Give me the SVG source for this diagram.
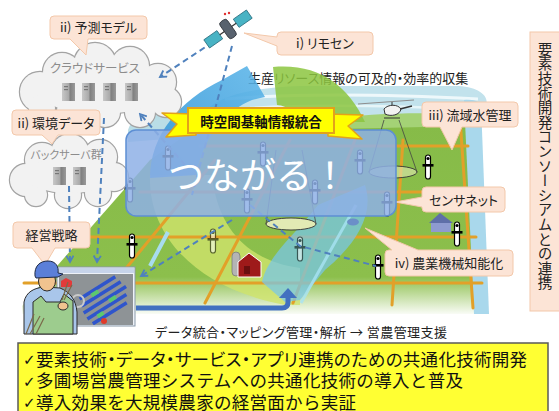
<svg xmlns="http://www.w3.org/2000/svg" width="559" height="411" viewBox="0 0 559 411">
<defs>
<style>
text{font-family:"Noto Sans CJK JP","Noto Sans",sans-serif;font-feature-settings:"palt";}
.call{fill:#fce4d6;stroke:#f3c8aa;stroke-width:1;}
.ct{font-size:13px;fill:#222;}
.dash{fill:none;stroke:#4f81bd;stroke-width:2;stroke-dasharray:6 4;}
.road{fill:none;stroke:#e2a029;stroke-width:3;stroke-linecap:round;}
.ctxt{fill:#8c8c8c;}
.chk{font-family:"DejaVu Sans",sans-serif;font-size:15px;fill:#111;}
.bl{font-size:17.5px;fill:#111;}
.full{font-feature-settings:normal;}
</style>
<marker id="chev" viewBox="0 0 10 10" refX="8" refY="5" markerWidth="4.5" markerHeight="4.5" orient="auto">
<path d="M1,1 L8,5 L1,9" fill="none" stroke="#4f81bd" stroke-width="2"/>
</marker>
<linearGradient id="fieldG" x1="0" y1="120" x2="0" y2="316" gradientUnits="userSpaceOnUse">
<stop offset="0" stop-color="#86bb48"/>
<stop offset="0.8" stop-color="#8cbf4c"/>
<stop offset="1" stop-color="#ffffff"/>
</linearGradient>
<linearGradient id="blueG" x1="150" y1="170" x2="260" y2="70" gradientUnits="userSpaceOnUse">
<stop offset="0" stop-color="#2f93d6"/>
<stop offset="1" stop-color="#5ab4e8"/>
</linearGradient>
<linearGradient id="srvG" x1="0" y1="0" x2="1" y2="0">
<stop offset="0" stop-color="#c8c8c8"/>
<stop offset="0.55" stop-color="#a8a8a8"/>
<stop offset="0.6" stop-color="#7e7e7e"/>
<stop offset="1" stop-color="#9a9a9a"/>
</linearGradient>
<g id="srv">
<rect x="0" y="0" width="13" height="18" fill="url(#srvG)"/>
<rect x="2" y="3" width="4" height="1.2" fill="#777"/>
<rect x="2" y="6" width="4" height="1.2" fill="#777"/>
</g>
<g id="pole">
<rect x="-2.5" y="0" width="5" height="24" rx="2.5" fill="#fff" stroke="#000" stroke-width="1.2"/>
<rect x="-5.5" y="9" width="11" height="2.6" fill="#000"/>
<circle cx="0" cy="3.5" r="1.6" fill="#000"/>
</g>
<g id="cloud1">
<circle cx="40" cy="92" r="20"/>
<circle cx="62" cy="72" r="19"/>
<circle cx="95" cy="64" r="21"/>
<circle cx="130" cy="66" r="19"/>
<circle cx="158" cy="82" r="18"/>
<circle cx="166" cy="102" r="15"/>
<circle cx="140" cy="112" r="15"/>
<circle cx="105" cy="112" r="15"/>
<circle cx="72" cy="111" r="15"/>
<circle cx="42" cy="108" r="13"/>
<ellipse cx="100" cy="90" rx="62" ry="24"/>
</g>
<g id="cloud2">
<circle cx="26" cy="180" r="16"/>
<circle cx="42" cy="160" r="17"/>
<circle cx="70" cy="153" r="19"/>
<circle cx="100" cy="157" r="17"/>
<circle cx="114" cy="177" r="14"/>
<circle cx="98" cy="193" r="13"/>
<circle cx="68" cy="195" r="13"/>
<circle cx="36" cy="195" r="11"/>
<ellipse cx="70" cy="175" rx="45" ry="18"/>
</g>
<clipPath id="scrClip"><rect x="59" y="274" width="74" height="51"/></clipPath>
</defs>

<rect width="559" height="411" fill="#ffffff"/>

<!-- distant landscape behind the field -->
<g id="landscape">
<path d="M128,130 C134,112 150,103 170,100 L180,138 L128,142 Z" fill="#b9dde6"/>
<path d="M196,132 C198,100 240,88 300,86 L455,86 C482,86 494,100 482,110 C472,116 470,122 470,135 Z" fill="#c2e2ec"/>
<path d="M225,99 C300,93 400,95 478,99" fill="none" stroke="#eef8fb" stroke-width="3"/>
<path d="M250,108 C320,104 420,106 472,110" fill="none" stroke="#e6f5f8" stroke-width="2.5"/>
<path d="M320,120 C380,112 440,112 472,116 L472,136 L320,136 Z" fill="#9fcf62" opacity="0.85"/>
</g>

<!-- farm field with roads and river -->
<g id="field">
<path d="M22,306 L150,160 L190,132 L470,126 L478,314 L22,314 Z" fill="url(#fieldG)"/>
<path d="M150,175 C148,235 195,288 285,305 L300,305 L300,268 C255,262 218,235 212,175 Z" fill="#cfe46c" opacity="0.8"/>
<path d="M464,100 C470,99 477,100 481,104 L489,314 L474,314 Z" fill="#a9d8ec"/>
<path class="road" d="M200,146 L468,146 M140,192 L470,192 M85,237 L476,237 M24,283 L482,283"/>
<path class="road" d="M100,300 L215,160 M205,303 L290,140 M293,303 L355,140 M392,305 L403,140 M473,308 L460,118"/>
<path d="M365,185 C375,215 355,245 325,270 L300,300 L285,302 L262,282 C268,255 295,235 318,205 Z" fill="#77c6ec" opacity="0.72"/>
<path d="M356,205 L301,303" fill="none" stroke="#a8e4f4" stroke-width="3" opacity="0.8"/>
<path d="M168,232 L150,266" fill="none" stroke="#a8dcef" stroke-width="4"/>
</g>

<text x="248" y="83" font-size="13" fill="#222">生産リソース情報の可及的・効率的収集</text>

<!-- circulating arrows -->
<g id="cycle">
<path d="M150,178 C150,135 180,100 222,80 L247,66 L265,97 L252,100 C228,110 205,132 196,175 Z" fill="url(#blueG)" opacity="0.88"/>
<path d="M273,67 C318,63 348,85 365,122 L300,122 C295,112 288,106 277,105 Z" fill="#8cc63f" opacity="0.85"/>
</g>

<!-- sensing cones, buildings and field sensors -->
<g id="ground">
<path d="M276,150 L266,224 M302,150 L316,224" stroke="#444" stroke-width="0.8" fill="none"/>
<ellipse cx="291" cy="224" rx="25" ry="6" fill="#e2eab4" stroke="#333" stroke-width="0.9"/>
<path d="M384,120 L369,172 M399,120 L417,172" stroke="#444" stroke-width="0.8" fill="none"/>
<ellipse cx="393" cy="172" rx="24" ry="6" fill="#e2eab4" fill-opacity="0.6" stroke="#333" stroke-width="0.9"/>
<rect x="232" y="252" width="8" height="24" rx="4" fill="#b4b4b4" stroke="#666" stroke-width="0.6"/>
<path d="M238,262 L249,253 L261,262 L261,277 L238,277 Z" fill="#9e1a1a" stroke="#fff" stroke-width="1"/>
<rect x="244" y="266" width="6" height="8" fill="#6a0f0f"/>
<path d="M429,223 L440,213 L453,223 Z" fill="#5e6fa8"/>
<rect x="431" y="223" width="20" height="9" fill="#8e9bd0"/>
<ellipse cx="353" cy="222" rx="6" ry="3.5" fill="#6b8fc8"/>
<use href="#pole" x="132" y="234"/>
<use href="#pole" x="213" y="229" opacity="0.55"/>
<use href="#pole" x="300" y="237" opacity="0.55"/>
<use href="#pole" x="378" y="255"/>
<use href="#pole" x="428" y="155"/>
<use href="#pole" x="457" y="222"/>
<use href="#pole" x="387" y="192"/>
<use href="#pole" x="168" y="146"/>
<use href="#pole" x="130" y="178"/>
<use href="#pole" x="247" y="189"/>
<use href="#pole" x="263" y="142"/>
<use href="#pole" x="315" y="180"/>
<use href="#pole" x="360" y="150"/>
</g>

<!-- server clouds -->
<g id="cloud-service">
<use href="#cloud1" fill="#f2f2f2" stroke="#a3a3a3" stroke-width="2.4"/>
<use href="#cloud1" fill="#f2f2f2"/>
<text x="95" y="73" font-size="12.5" class="ctxt" text-anchor="middle">クラウドサービス</text>
<use href="#srv" x="62" y="83"/>
<use href="#srv" x="82" y="83"/>
<use href="#srv" x="103" y="83"/>
<use href="#srv" x="125" y="83"/>
</g>
<g id="cloud-backend">
<use href="#cloud2" fill="#f2f2f2" stroke="#a3a3a3" stroke-width="2.4"/>
<use href="#cloud2" fill="#f2f2f2"/>
<text x="66" y="159" font-size="11" class="ctxt" text-anchor="middle">バックサーバ群</text>
<use href="#srv" x="53" y="167"/>
<use href="#srv" x="73" y="167"/>
</g>

<!-- data flows -->
<g id="connectors">
<path class="dash" d="M213,42 L160,77" marker-end="url(#chev)"/>
<path class="dash" d="M232,46 L192,195"/>
<path class="dash" d="M185,165 L140,114" marker-end="url(#chev)"/>
<path class="dash" d="M104,118 L97,262" marker-end="url(#chev)"/>
<path class="dash" d="M69,186 L70,262" marker-end="url(#chev)"/>
<path class="dash" d="M232,220 L141,276" marker-end="url(#chev)"/>
<path class="dash" d="M250,205 L300,246 L376,266"/>
</g>

<!-- satellite -->
<g id="satellite">
<g transform="translate(228,29) rotate(-35)">
<rect x="-26" y="-5" width="16" height="10" fill="#48b3c4" stroke="#2a6f80" stroke-width="0.8"/>
<rect x="10" y="-5" width="16" height="10" fill="#48b3c4" stroke="#2a6f80" stroke-width="0.8"/>
<line x1="-10" y1="0" x2="10" y2="0" stroke="#333" stroke-width="1.2"/>
<rect x="-4.5" y="-10" width="9" height="20" rx="3" fill="#58626e" stroke="#2b3036" stroke-width="0.8"/>
</g>
<circle cx="225" cy="14" r="1.2" fill="#e03030"/>
<circle cx="229" cy="13" r="1.2" fill="#e03030"/>
</g>

<!-- helicopter -->
<g id="helicopter">
<line x1="358" y1="104" x2="414" y2="100" stroke="#8e8e8e" stroke-width="1"/>
<line x1="392" y1="102" x2="392" y2="106" stroke="#333" stroke-width="1"/>
<path d="M384,109 C388,104 398,104 401,109 C400,115 391,117 385,114 Z" fill="#f2f2f2" stroke="#333" stroke-width="1"/>
<line x1="400" y1="109" x2="412" y2="106" stroke="#333" stroke-width="1.5"/>
<line x1="384" y1="118" x2="400" y2="118" stroke="#333" stroke-width="1"/>
</g>

<!-- callouts -->
<g id="c-yosoku">
<path class="call" d="M54,16 H143 Q147,16 147,20 V35 Q147,39 143,39 H88 L86,55 L70,39 H54 Q50,39 50,35 V20 Q50,16 54,16 Z"/>
<text x="98.5" y="32" class="ct" text-anchor="middle">ii) 予測モデル</text>
</g>
<g id="c-rimosen">
<path class="call" d="M281,32 H369 Q373,32 373,36 V51 Q373,55 369,55 H281 Q277,55 277,51 V46 L244,33 L277,37 V36 Q277,32 281,32 Z"/>
<text x="325" y="48" class="ct" text-anchor="middle">i) リモセン</text>
</g>
<g id="c-ryuiki">
<path class="call" d="M426,102 H514 Q518,102 518,106 V123 Q518,127 514,127 H462 L452,150 L440,127 H426 Q422,127 422,123 V106 Q422,102 426,102 Z"/>
<text x="470" y="119.5" class="ct" text-anchor="middle">iii) 流域水管理</text>
</g>
<g id="c-kankyo">
<path class="call" d="M16,110 H96 Q100,110 100,114 V131 Q100,135 96,135 H58 L52,144 L42,135 H16 Q12,135 12,131 V114 Q12,110 16,110 Z"/>
<text x="56" y="127.5" class="ct" text-anchor="middle">ii) 環境データ</text>
</g>
<g id="c-keiei">
<path class="call" d="M17,222 H86 Q90,222 90,226 V244 Q90,248 86,248 H55 L45,265 L32,248 H17 Q13,248 13,244 V226 Q13,222 17,222 Z"/>
<text x="51.5" y="240" class="ct" text-anchor="middle">経営戦略</text>
</g>
<g id="c-sensor">
<path class="call" d="M426,187 H501 Q505,187 505,191 V208 Q505,212 501,212 H426 Q422,212 422,208 V207 L395,202 L422,197 V191 Q422,187 426,187 Z"/>
<text x="463.5" y="204.5" class="ct" text-anchor="middle">センサネット</text>
</g>
<g id="c-kikai">
<path class="call" d="M389,250 H392 L365,228 L418,250 H509 Q513,250 513,254 V272 Q513,276 509,276 H389 Q385,276 385,272 V254 Q385,250 389,250 Z"/>
<text x="449" y="268" class="ct" text-anchor="middle">iv) 農業機械知能化</text>
</g>

<!-- integration panel -->
<g id="panel">
<rect x="126" y="130" width="270" height="86" rx="10" fill="#8eb0e6" fill-opacity="0.85" stroke="#5d8fd4" stroke-width="1.5"/>
<text x="168" y="189" font-size="36" fill="#ffffff" class="full">つながる！</text>
</g>

<g id="banner">
<path d="M194,114 L162,113 L177,124 L166,137 L196,135 Z" fill="#ffff00" stroke="#e3a21a" stroke-width="1.5" stroke-linejoin="round"/>
<path d="M328,114 L363,115 L348,126 L362,139 L328,136 Z" fill="#ffff00" stroke="#e3a21a" stroke-width="1.5" stroke-linejoin="round"/>
<rect x="188" y="108" width="146" height="25" fill="#ffff00" stroke="#e3a21a" stroke-width="2"/>
<text x="261" y="126.5" font-size="13.5" font-weight="bold" fill="#111" text-anchor="middle">時空間基軸情報統合</text>
</g>

<!-- management screen and farmer -->
<g id="screen">
<rect x="57" y="267" width="78" height="59" fill="#eef2f8" stroke="#8a9aaa" stroke-width="1"/>
<rect x="58" y="268" width="76" height="5" fill="#c7d4ea"/>
<rect x="59" y="274" width="74" height="51" fill="#8e9396"/>
<g clip-path="url(#scrClip)">
<g transform="rotate(-32 105 300)">
<rect x="84" y="284" width="42" height="3.5" fill="#2f55cc"/>
<rect x="82" y="291" width="46" height="3.5" fill="#2f55cc"/>
<rect x="80" y="298" width="50" height="3.5" fill="#2f55cc"/>
<rect x="80" y="305" width="46" height="3.5" fill="#2f55cc"/>
<rect x="82" y="312" width="40" height="3.5" fill="#2f55cc"/>
<rect x="96" y="287" width="8" height="4" fill="#5cc86e"/>
<rect x="108" y="301" width="8" height="4" fill="#5cc86e"/>
<rect x="90" y="308" width="7" height="4" fill="#5cc86e"/>
</g>
<path d="M61,287 L61,281 L66,278 L72,281 L72,287 Z" fill="#e23a3a"/>
<circle cx="78" cy="301" r="6" fill="none" stroke="#c9c9c9" stroke-width="2"/>
<circle cx="104" cy="321" r="3" fill="#e03b2a"/>
</g>
</g>
<g id="farmer">
<path d="M24,334 L24,302 C26,292 34,288 44,287 L60,288 C70,292 76,300 77,312 L77,334 Z" fill="#a9c6ea" stroke="#2a2a2a" stroke-width="1"/>
<path d="M33,334 L33,302 L41,296 L46,302 L60,302 L64,294 L73,301 L73,334 Z" fill="#9dcc8e" stroke="#2a2a2a" stroke-width="1"/>
<ellipse cx="47" cy="281" rx="8.5" ry="10" fill="#f1c38f" stroke="#2a2a2a" stroke-width="1"/>
<path d="M35,276 C34,266 40,261 48,261 C56,261 59,267 58,273 L63,274 L58,277 L36,278 Z" fill="#5b7fd8" stroke="#1f2a44" stroke-width="1"/>
<ellipse cx="63" cy="306" rx="5" ry="4" fill="#f1c38f" stroke="#2a2a2a" stroke-width="1"/>
<path d="M62,300 L68,282 M64,300 L72,285 M26,334 L34,314 M30,334 L40,316 M36,334 L44,318" stroke="#7a6a4a" stroke-width="1.2" fill="none"/>
</g>
<g id="flow-arrow">
<path d="M136,308 H282 Q288,308 288,302 V297" fill="none" stroke="#4270c0" stroke-width="5"/>
<path d="M279,298 L288,288 L297,298 Z" fill="#4270c0"/>
</g>

<text x="155" y="337" font-size="13" fill="#222" textLength="292" lengthAdjust="spacing">データ統合・マッピング管理・解析 → 営農管理支援</text>

<!-- summary box -->
<g id="summary">
<rect x="18" y="343" width="530" height="76" fill="#ffff33" stroke="#5a5a5a" stroke-width="1.5"/>
<text x="23" y="365" class="chk">✓</text>
<text x="23" y="386.5" class="chk">✓</text>
<text x="23" y="408" class="chk">✓</text>
<text x="36" y="365.5" class="bl" textLength="491" lengthAdjust="spacing">要素技術・データ・サービス・アプリ連携のための共通化技術開発</text>
<text x="36" y="387" class="bl full" textLength="427" lengthAdjust="spacing">多圃場営農管理システムへの共通化技術の導入と普及</text>
<text x="36" y="408.5" class="bl full" textLength="320" lengthAdjust="spacing">導入効果を大規模農家の経営面から実証</text>
</g>

<!-- consortium side label -->
<g id="consortium">
<rect x="530" y="32" width="32" height="279" class="call"/>
<text x="545" y="42" font-size="14.6" fill="#222" writing-mode="vertical-rl" class="full">要素技術開発コンソーシアムとの連携</text>
</g>
</svg>
